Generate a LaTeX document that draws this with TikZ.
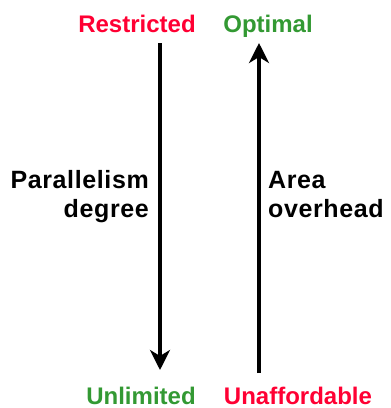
\documentclass[tikz,border=0pt]{standalone}
\usepackage{fontspec}
\setmainfont{Liberation Sans}
\usetikzlibrary{arrows.meta}
\definecolor{badred}{HTML}{FF0033}
\definecolor{goodgreen}{HTML}{339933}
\begin{document}
\begin{tikzpicture}[x=1pt,y=-1pt,
  lbl/.style={inner sep=0pt, font=\fontsize{24}{28}\selectfont\bfseries},
  mid/.style={inner sep=0pt, font=\fontsize{25}{29}\selectfont\bfseries\addfontfeature{LetterSpace=2.5}},
  axis/.style={line width=3.5pt, -{Stealth[length=20pt,width=20pt,inset=6pt]}}]
\useasboundingbox (0,0) rectangle (391,408);
\node[lbl, text=badred, anchor=base] (restr) at (137,32) {Restricted};
\node[lbl, text=goodgreen, anchor=base] (optim) at (268,32) {Optimal};
\node[lbl, text=goodgreen, anchor=base, text depth=0pt] (unlim) at (141,404) {Unlimited};
\node[lbl, text=badred, anchor=base, text depth=0pt] (unaff) at (298,404) {Unaffordable};
\node[mid, align=right, anchor=east] (par) at (149,197) {Parallelism\\degree};
\node[mid, align=left, anchor=west] (area) at (268,194.5) {Area\\overhead};
\coordinate (la) at (160,43);
\coordinate (lb) at (160,370);
\coordinate (ra) at (259,373);
\coordinate (rb) at (259,43);
\draw[axis] (la) -- (lb);
\draw[axis] (ra) -- (rb);
\end{tikzpicture}
\end{document}
